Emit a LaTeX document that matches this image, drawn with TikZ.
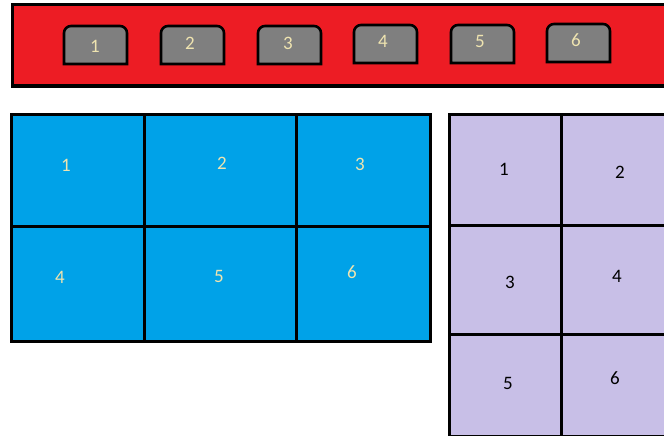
\documentclass[tikz,border=0pt]{standalone}
\usepackage{fontspec}
\setmainfont{Carlito}
\usepackage{xcolor}
\usepackage{tikz}
\definecolor{barred}{HTML}{ED1C24}
\definecolor{tabgray}{HTML}{7F7F7F}
\definecolor{cellblue}{HTML}{00A2E8}
\definecolor{celllilac}{HTML}{C8BFE7}
\definecolor{cream}{HTML}{EFE4B0}

\begin{document}
\begin{tikzpicture}[
    x=1pt, y=-1pt,
    frame/.style={draw=black, line width=3pt},
    tab/.style={frame, fill=tabgray, line width=2.6pt},
    gridline/.style={draw=black, line width=3pt},
    num/.style={font=\fontsize{19}{21}\selectfont, inner sep=0pt},
    lightnum/.style={num, text=cream},
    darknum/.style={num, text=black}
]
\useasboundingbox (0,0) rectangle (664,436);

% red bar with tabs
\path[frame, fill=barred] (12,5) rectangle (668,86);
\foreach \i/\xl/\yt/\lx/\ly in {1/64/26/95/46, 2/161/26/190/43, 3/258/26/288/43,
                                4/354/25/383/41, 5/451/25/480/41, 6/547/24/576/40} {
    \path[tab] (\xl,\yt+38) [rounded corners=7pt] -- (\xl,\yt) -- (\xl+63,\yt)
        [sharp corners] -- (\xl+63,\yt+38) -- cycle;
    \node[lightnum] (tab\i) at (\lx,\ly) {\i};
}

% blue grid
\path[frame, fill=cellblue] (11,114) rectangle (430,341);
\draw[gridline] (144,114) -- (144,341);
\draw[gridline] (296,114) -- (296,341);
\draw[gridline] (11,226) -- (430,226);
\foreach \i/\lx/\ly in {1/66/165, 2/222/163, 3/360/164, 4/60/277, 5/219/276, 6/352/272}
    \node[lightnum] (blue\i) at (\lx,\ly) {\i};

% lilac grid
\path[frame, fill=celllilac] (449,114) rectangle (668,436);
\draw[gridline] (561,114) -- (561,436);
\draw[gridline] (449,225) -- (668,225);
\draw[gridline] (449,334) -- (668,334);
\foreach \i/\lx/\ly in {1/504/169, 2/620/172, 3/510/282, 4/617/276, 5/508/383, 6/615/378}
    \node[darknum] (lilac\i) at (\lx,\ly) {\i};
\end{tikzpicture}
\end{document}
